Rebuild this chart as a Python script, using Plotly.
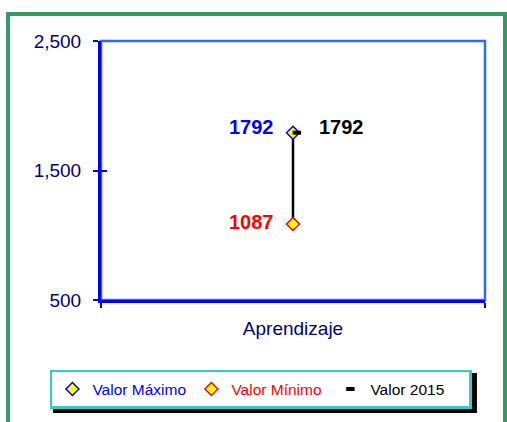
import plotly.graph_objects as go

categories = ["Aprendizaje"]
valor_maximo = [1792]
valor_minimo = [1087]
valor_2015 = [1792]
y_ticks = [500, 1500, 2500]

FONT = "Liberation Sans, Arial, sans-serif"
x = [0]
x2015 = [0.01]

fig = go.Figure()

# high-low line
fig.add_trace(go.Scatter(
    x=[x[0], x[0]], y=[valor_maximo[0], valor_minimo[0]],
    mode="lines", line=dict(color="black", width=2.5),
    showlegend=False, hoverinfo="skip"))

fig.add_trace(go.Scatter(
    x=x, y=valor_maximo, name="<span style='color:#0000FF'>Valor Máximo</span>", mode="markers",
    marker=dict(symbol="diamond", size=10, color="#FFFF00", line=dict(color="#0000FF", width=1.5))))

fig.add_trace(go.Scatter(
    x=x, y=valor_minimo, name="<span style='color:#FF0000'>Valor Mínimo</span>", mode="markers",
    marker=dict(symbol="diamond", size=10, color="#FFFF00", line=dict(color="#FF0000", width=1.5))))

fig.add_trace(go.Scatter(
    x=x2015, y=valor_2015, name="<span style='color:#000000'>Valor 2015</span>", mode="markers",
    marker=dict(symbol="line-ew", size=6, color="black", line=dict(color="black", width=4))))

# value labels
for v, col, xx, anchor, xs in [(valor_maximo[0], "#0000FF", x[0], "right", -17),
                                (valor_minimo[0], "#FF0000", x[0], "right", -17),
                                (valor_2015[0], "#000000", x2015[0], "left", 20)]:
    fig.add_annotation(x=xx, y=v, text=str(v), showarrow=False, xanchor=anchor, xshift=xs,
                       yshift=6 if v == valor_maximo[0] else 2,
                       font=dict(family=FONT, size=20, color=col, weight="bold"))

# plot frame (top/right lighter)
fig.add_shape(type="rect", xref="x domain", yref="y domain", x0=0, x1=1, y0=0, y1=1,
              line=dict(color="#3366FF", width=2.5), layer="below")
# outer green border
fig.add_shape(type="rect", xref="paper", yref="paper",
              x0=-0.242, x1=1.052, y0=-0.55, y1=1.104,
              line=dict(color="#339966", width=4), layer="below")
# legend shadow
fig.add_shape(type="rect", xref="paper", yref="paper",
              x0=-0.125, x1=0.979, y0=-0.436, y1=-0.282,
              line=dict(width=0), fillcolor="black", layer="below")

fig.update_layout(
    width=507, height=422,
    margin=dict(l=101, r=22, t=41, b=122),
    paper_bgcolor="white", plot_bgcolor="white",
    font=dict(family=FONT, size=19, color="#000080"),
    showlegend=True,
    legend=dict(orientation="h", x=-0.133, xanchor="left", y=-0.27, yanchor="top",
                bgcolor="white", bordercolor="#33CCCC", borderwidth=2.5,
                font=dict(family=FONT, size=15.5), entrywidth=94),
    xaxis=dict(range=[-0.5, 0.5], tickvals=x, ticktext=categories, ticks="",
               ticklabelstandoff=9,
               showline=True, linecolor="#0000FF", linewidth=3, showgrid=False, zeroline=False,
               tickfont=dict(color="#000080", size=19),
               minor=dict(tickvals=[-0.5, 0.5], ticks="outside", ticklen=5, tickcolor="#0000FF", tickwidth=2)),
    yaxis=dict(range=[500, 2500], tickvals=y_ticks, tickformat=",", ticks="outside", ticklen=5,
               ticklabelstandoff=8,
               tickcolor="#0000FF", tickwidth=2, showline=True, linecolor="#0000FF", linewidth=3,
               showgrid=False, zeroline=False, tickfont=dict(color="#000080", size=19)),
    xaxis2=dict(overlaying="x", anchor="y", range=[-0.5, 0.5], tickvals=[-0.5, 0.5],
                ticks="inside", ticklen=5, tickcolor="#0000FF", tickwidth=2,
                showticklabels=False, showline=False, showgrid=False, zeroline=False),
    yaxis2=dict(overlaying="y", anchor="x", range=[500, 2500], tickvals=y_ticks,
                ticks="inside", ticklen=6, tickcolor="#0000FF", tickwidth=2,
                showticklabels=False, showline=False, showgrid=False, zeroline=False),
)
# dummy trace to activate overlay axes
fig.add_trace(go.Scatter(x=[None], y=[None], xaxis="x2", yaxis="y2", showlegend=False, hoverinfo="skip"))

fig.write_html("out.html", config={"displayModeBar": False},
               post_script="document.body.style.margin='0';document.body.style.overflow='hidden';")
